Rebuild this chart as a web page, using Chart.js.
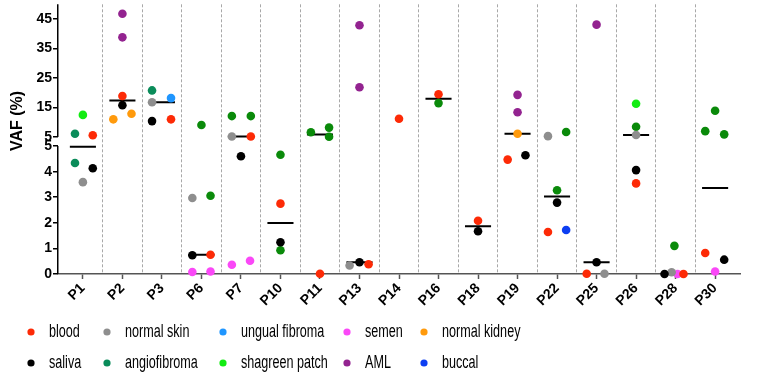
<!DOCTYPE html>
<html>
<head>
<meta charset="utf-8">
<script src="https://cdn.jsdelivr.net/npm/chart.js@4.4.0/dist/chart.umd.min.js"></script>
<style>
  html, body { margin: 0; padding: 0; background: #fff; }
</style>
</head>
<body>
<canvas id="chart" width="773" height="372"></canvas>
<script>
// patients along the x axis
const patients = ["P1", "P2", "P3", "P6", "P7", "P10", "P11", "P13", "P14", "P16", "P18", "P19", "P22", "P25", "P26", "P28", "P30"];

// tick labels of the two parts of the broken y axis
const upperTicks = [5, 15, 25, 35, 45];
const lowerTicks = [0, 1, 2, 3, 4, 5];
const breakAt = 5;

// VAF (%) per sample: [patient, value, spread inside the column]
const blood = [["P1", 5.6, 0.25], ["P2", 18.9, 0], ["P3", 11.0, 0.23], ["P6", 0.75, 0.23], ["P7", 5.2, 0.25],
  ["P10", 2.75, 0], ["P11", 0.01, 0], ["P13", 0.38, 0.23], ["P14", 11.2, 0], ["P16", 19.5, 0], ["P18", 2.08, 0],
  ["P19", 4.47, -0.25], ["P22", 1.64, -0.23], ["P25", 0.01, -0.25], ["P26", 3.54, 0], ["P28", 0.0, 0.2], ["P30", 0.82, -0.25]];
const saliva = [["P1", 4.13, 0.25], ["P2", 15.8, 0], ["P3", 10.4, -0.25], ["P6", 0.73, -0.23], ["P7", 4.6, 0],
  ["P10", 1.24, 0], ["P13", 0.46, 0], ["P18", 1.67, 0], ["P19", 4.64, 0.2], ["P22", 2.79, 0], ["P25", 0.46, 0],
  ["P26", 4.06, 0], ["P28", 0.0, -0.28], ["P30", 0.56, 0.23]];
const normalSkin = [["P1", 3.59, 0], ["P3", 16.8, -0.25], ["P6", 2.97, -0.23], ["P7", 5.2, -0.23], ["P13", 0.33, -0.25],
  ["P22", 5.3, -0.23], ["P25", 0.01, 0.2], ["P26", 5.7, 0], ["P28", 0.07, -0.1]];
const angiofibroma = [["P1", 6.1, -0.2], ["P1", 4.34, -0.2], ["P3", 20.8, -0.25]];
const ungualFibroma = [["P3", 18.2, 0.23]];
const shagreenPatch = [["P1", 12.5, 0], ["P26", 16.3, 0]];
const semen = [["P6", 0.08, -0.23], ["P6", 0.1, 0.23], ["P7", 0.36, -0.23], ["P7", 0.52, 0.23], ["P28", 0.0, 0.05], ["P30", 0.1, 0]];
const aml = [["P2", 46.8, 0], ["P2", 38.8, 0], ["P13", 42.9, 0], ["P13", 21.9, 0], ["P19", 19.3, 0], ["P19", 13.4, 0], ["P25", 43.1, 0]];
const normalKidney = [["P2", 11.0, -0.23], ["P2", 12.9, 0.23], ["P19", 6.1, 0]];
const buccal = [["P22", 1.72, 0.23]];
const otherGreen = [["P6", 9.1, 0], ["P6", 3.06, 0.23], ["P7", 12.1, -0.23], ["P7", 12.1, 0.25], ["P10", 4.66, 0], ["P10", 0.93, 0],
  ["P11", 6.6, -0.23], ["P11", 8.2, 0.23], ["P11", 5.1, 0.23], ["P16", 16.5, 0], ["P22", 6.7, 0.23], ["P22", 3.27, 0],
  ["P26", 8.5, 0], ["P28", 1.1, -0.03], ["P30", 13.9, 0], ["P30", 7.0, -0.25], ["P30", 5.9, 0.23]];

// median line per patient (null = none)
const medians = [4.97, 17.35, 16.8, 0.75, 5.2, 1.99, 5.85, 0.46, null, 18.0, 1.87, 6.1, 3.03, 0.46, 5.7, null, 3.36];

// legend order: column by column
const tissues = [
  { label: "blood", color: "#fd2a06", data: blood },
  { label: "saliva", color: "#000000", data: saliva },
  { label: "normal skin", color: "#8e8e8e", data: normalSkin },
  { label: "angiofibroma", color: "#0a8c5a", data: angiofibroma },
  { label: "ungual fibroma", color: "#1f96ff", data: ungualFibroma },
  { label: "shagreen patch", color: "#12ec12", data: shagreenPatch },
  { label: "semen", color: "#fa48f7", data: semen },
  { label: "AML", color: "#932390", data: aml },
  { label: "normal kidney", color: "#ff9a0c", data: normalKidney },
  { label: "buccal", color: "#0d3ef2", data: buccal },
  { label: "other", color: "#0a8a0a", data: otherGreen, hidden: true }
];

const FONT = "'Liberation Sans', Arial, sans-serif";
Chart.defaults.font.family = FONT;
Chart.defaults.color = "#000";

let datasets = [];
tissues.forEach(function (t) {
  [["yHigh", (v) => v > breakAt], ["yLow", (v) => v <= breakAt]].forEach(function ([axis, keep]) {
    datasets.push({
      label: t.label,
      yAxisID: axis,
      data: t.data
        .filter((p) => keep(p[1]))
        .map((p) => ({ x: patients.indexOf(p[0]) + p[2], y: p[1] })),
      backgroundColor: t.color,
      borderColor: t.color,
      borderWidth: 0,
      pointRadius: 4.3,
      pointHoverRadius: 4.3,
      clip: false,
    });
  });
});

function medianLine(keep) {
  let pts = [];
  medians.forEach(function (m, i) {
    if (m === null || !keep(m)) return;
    pts.push({ x: i - 0.33, y: m }, { x: i + 0.33, y: m }, { x: i, y: null });
  });
  return pts;
}

[["yHigh", (v) => v > breakAt], ["yLow", (v) => v <= breakAt]].forEach(function ([axis, keep]) {
  datasets.push({
    label: "median",
    yAxisID: axis,
    data: medianLine(keep),
    showLine: true,
    spanGaps: false,
    borderColor: "#000",
    borderWidth: 2,
    pointRadius: 0,
    clip: false,
  });
});

// ticks for the x axis: categories at integers, separators at half steps
let xTicks = [];
patients.forEach(function (_, i) {
  xTicks.push({ value: i });
  if (i < patients.length - 1) xTicks.push({ value: i + 0.5 });
});

const isCat = (c) => c.tick && Number.isInteger(c.tick.value);

const yTickOpts = { autoSkip: false, color: "#000", padding: 1, font: { size: 14, weight: "bold" } };
const yGridOpts = { drawOnChartArea: false, tickLength: 5, color: "#000", tickColor: "#000", lineWidth: 1.5 };

const decor = {
  id: "decor",
  afterDraw(chart) {
    const ctx = chart.ctx;
    const hi = chart.scales.yHigh;
    const lo = chart.scales.yLow;
    const x = Math.round(hi.right) - 0.25;

    ctx.save();
    // broken y axis
    ctx.strokeStyle = "#000";
    ctx.lineWidth = 1.5;
    ctx.beginPath();
    ctx.moveTo(x, hi.getPixelForValue(hi.max));
    ctx.lineTo(x, hi.getPixelForValue(breakAt));
    ctx.moveTo(x, lo.getPixelForValue(breakAt));
    ctx.lineTo(x, lo.getPixelForValue(0));
    ctx.stroke();

    // axis title
    ctx.translate(18, 121);
    ctx.rotate(-Math.PI / 2);
    ctx.fillStyle = "#000";
    ctx.font = "bold 16px " + FONT;
    ctx.textAlign = "center";
    ctx.textBaseline = "middle";
    ctx.fillText("VAF (%)", 0, 0);
    ctx.restore();

    // legend, two rows, narrow type
    const cols = [31, 107, 223, 347, 424];
    const rows = [332, 363];
    ctx.save();
    ctx.font = "18px " + FONT;
    ctx.textBaseline = "middle";
    tissues.forEach(function (t, i) {
      if (t.hidden) return;
      const cx = cols[Math.floor(i / 2)];
      const cy = rows[i % 2];
      ctx.fillStyle = t.color;
      ctx.beginPath();
      ctx.arc(cx, cy, 3.6, 0, Math.PI * 2);
      ctx.fill();
      ctx.save();
      ctx.translate(cx + 18, cy);
      ctx.scale(0.7, 1);
      ctx.fillStyle = "#000";
      ctx.fillText(t.label, 0, 0);
      ctx.restore();
    });
    ctx.restore();
  },
};

new Chart(document.getElementById("chart"), {
  type: "scatter",
  data: { datasets: datasets },
  plugins: [decor],
  options: {
    responsive: false,
    animation: false,
    events: [],
    layout: { padding: { top: 4, right: 33, bottom: 58, left: 0 } },
    plugins: { legend: { display: false }, tooltip: { enabled: false } },
    scales: {
      x: {
        type: "linear",
        min: -0.63,
        max: 16.63,
        afterBuildTicks: (s) => { s.ticks = xTicks.map((t) => ({ value: t.value })); },
        afterFit: (s) => { s.height = 40; s.paddingLeft = 0; s.paddingRight = 0; },
        ticks: {
          autoSkip: false,
          minRotation: 45,
          maxRotation: 45,
          padding: 1,
          color: "#000",
          font: { size: 14, weight: "bold" },
          callback: (v) => (Number.isInteger(v) ? patients[v] : ""),
        },
        grid: {
          color: (c) => (isCat(c) ? "rgba(0,0,0,0)" : "#a8a8a8"),
          tickColor: (c) => (isCat(c) ? "#555" : "rgba(0,0,0,0)"),
          lineWidth: 1,
          tickLength: 5,
          tickWidth: 1.5,
          tickBorderDash: [],
        },
        border: { color: "#555", width: 1.5, dash: [3, 2] },
      },
      yHigh: {
        type: "linear",
        position: "left",
        stack: "vaf",
        stackWeight: 137.2,
        weight: 1,
        min: 3.5,
        max: 50,
        afterBuildTicks: (s) => { s.ticks = upperTicks.map((v) => ({ value: v })); },
        afterFit: (s) => { s.width = 58; s.paddingTop = 0; s.paddingBottom = 0; },
        ticks: yTickOpts,
        grid: yGridOpts,
        border: { display: false },
      },
      yLow: {
        type: "linear",
        position: "left",
        stack: "vaf",
        stackWeight: 132.6,
        weight: 0,
        min: 0,
        max: 5.18,
        afterBuildTicks: (s) => { s.ticks = lowerTicks.map((v) => ({ value: v })); },
        afterFit: (s) => { s.width = 58; s.paddingTop = 0; s.paddingBottom = 0; },
        ticks: yTickOpts,
        grid: yGridOpts,
        border: { display: false },
      },
    },
  },
});
</script>
</body>
</html>
